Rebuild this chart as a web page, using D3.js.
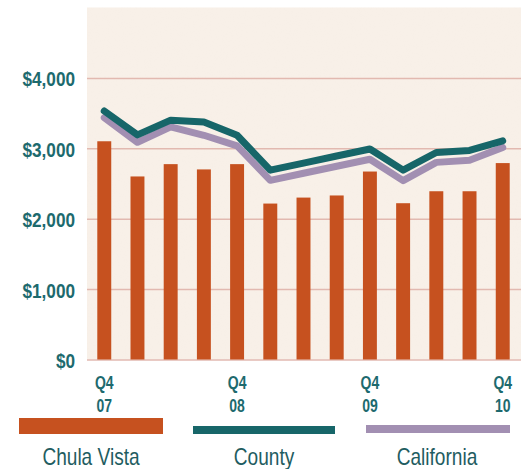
<!DOCTYPE html>
<html><head><meta charset="utf-8">
<script src="https://cdn.jsdelivr.net/npm/d3@7"></script>
<style>
html,body{margin:0;padding:0;background:#fff;}
svg{display:block;}
</style></head>
<body>
<svg id="chart" width="521" height="469"></svg>
<script>
const categories = ["Q4 07","Q1 08","Q2 08","Q3 08","Q4 08","Q1 09","Q2 09","Q3 09","Q4 09","Q1 10","Q2 10","Q3 10","Q4 10"];
const chulaVista = [3100,2600,2775,2700,2775,2215,2300,2330,2670,2220,2390,2390,2790];
const county     = [3530,3190,3400,3375,3185,2690,2790,2890,2990,2690,2940,2970,3105];
const california = [3435,3085,3305,3185,3035,2545,2645,2745,2845,2540,2800,2830,3010];
const yTicks = [0,1000,2000,3000,4000];
const xTickLabels = {"Q4 07":["Q4","07"],"Q4 08":["Q4","08"],"Q4 09":["Q4","09"],"Q4 10":["Q4","10"]};
const legendItems = ["Chula Vista","County","California"];

const colors = {bar:"#c6511f", county:"#176669", california:"#a28fb2", text:"#1d6a6e", legendText:"#1f5d61", grid:"#e2b9b0", bg:"#f8f0e8"};
const font = "'Liberation Sans',Arial,Helvetica,sans-serif";

const svg = d3.select("#chart");
const pL = 87, pR = 521, pT = 7.5, pB = 359.5;

const x = d3.scaleBand().domain(categories).range([pL, 520]).paddingInner(0.58).paddingOuter(0.31);
const y = d3.scaleLinear().domain([0,5000]).range([pB, pT]);

// background texture
const defs = svg.append("defs");
const f = defs.append("filter").attr("id","grain").attr("x",0).attr("y",0).attr("width","100%").attr("height","100%");
f.append("feTurbulence").attr("type","fractalNoise").attr("baseFrequency",0.9).attr("numOctaves",2).attr("seed",3).attr("result","noise");
f.append("feColorMatrix").attr("in","noise").attr("type","matrix")
  .attr("values","0 0 0 0 0.85  0 0 0 0 0.78  0 0 0 0 0.72  0 0 0 -1.6 0.95").attr("result","tint");
f.append("feComposite").attr("in","tint").attr("in2","SourceGraphic").attr("operator","in");

svg.append("rect").attr("x",pL).attr("y",pT).attr("width",pR-pL).attr("height",pB-pT).attr("fill",colors.bg);
svg.append("rect").attr("x",pL).attr("y",pT).attr("width",pR-pL).attr("height",pB-pT).attr("fill","#000").attr("filter","url(#grain)").attr("opacity",0.09);

// gridlines
const grid = svg.append("g").attr("transform",`translate(${pL},0)`)
  .call(d3.axisLeft(y).tickValues(yTicks).tickSize(-(pR-pL)).tickFormat(""));
grid.select(".domain").remove();
grid.selectAll("line").attr("stroke",colors.grid).attr("stroke-width",1.5);

// y axis labels
const sy = 0.86;
const yAxis = svg.append("g").attr("transform",`translate(${pL},0)`)
  .call(d3.axisLeft(y).tickValues(yTicks).tickSize(0).tickPadding(12).tickFormat(d=>"$"+d3.format(",")(d)));
yAxis.select(".domain").remove();
yAxis.selectAll("text").attr("fill",colors.text).attr("font-family",font).attr("font-weight","bold")
  .attr("font-size",20).attr("dy","0.4em").attr("x",-12/sy).attr("transform",`scale(${sy},1)`);

// bars
svg.append("g").selectAll("rect").data(categories).join("rect")
  .attr("x",d=>x(d)).attr("width",x.bandwidth())
  .attr("y",(d,i)=>y(chulaVista[i])).attr("height",(d,i)=>y(0)-y(chulaVista[i]))
  .attr("fill",colors.bar);

// lines
const line = d3.line().x((d,i)=>x(categories[i])+x.bandwidth()/2).y(d=>y(d));
svg.append("path").datum(california).attr("d",line).attr("fill","none").attr("stroke",colors.california)
  .attr("stroke-width",7).attr("stroke-linejoin","round").attr("stroke-linecap","round");
svg.append("path").datum(county).attr("d",line).attr("fill","none").attr("stroke",colors.county)
  .attr("stroke-width",7).attr("stroke-linejoin","round").attr("stroke-linecap","round");

// x axis
const xAxis = svg.append("g").attr("transform",`translate(0,${pB})`)
  .call(d3.axisBottom(x).tickValues(Object.keys(xTickLabels)).tickSize(0).tickFormat(""));
xAxis.select(".domain").remove();
xAxis.selectAll(".tick").each(function(d){
  const t = d3.select(this).append("text").attr("fill",colors.text).attr("font-family",font)
    .attr("font-weight","bold").attr("font-size",17.5).attr("text-anchor","middle").attr("transform","scale(0.8,1)");
  xTickLabels[d].forEach((s,j)=>t.append("tspan").attr("x",0).attr("y",29.5+j*23).text(s));
});

// legend
const legendX = d3.scalePoint().domain(legendItems).range([91,437]);
const lg = svg.append("g");
lg.append("rect").attr("x",19).attr("y",418).attr("width",144).attr("height",16).attr("fill",colors.bar);
lg.append("rect").attr("x",193).attr("y",426).attr("width",142).attr("height",8).attr("fill",colors.county);
lg.append("rect").attr("x",366).attr("y",425).attr("width",144).attr("height",8).attr("fill",colors.california);
lg.selectAll("text").data(legendItems).join("text")
  .attr("transform",d=>`translate(${legendX(d)},464.5) scale(0.83,1)`).attr("text-anchor","middle")
  .attr("font-family",font).attr("font-size",23).attr("fill",colors.legendText).text(d=>d);
</script>
</body></html>
